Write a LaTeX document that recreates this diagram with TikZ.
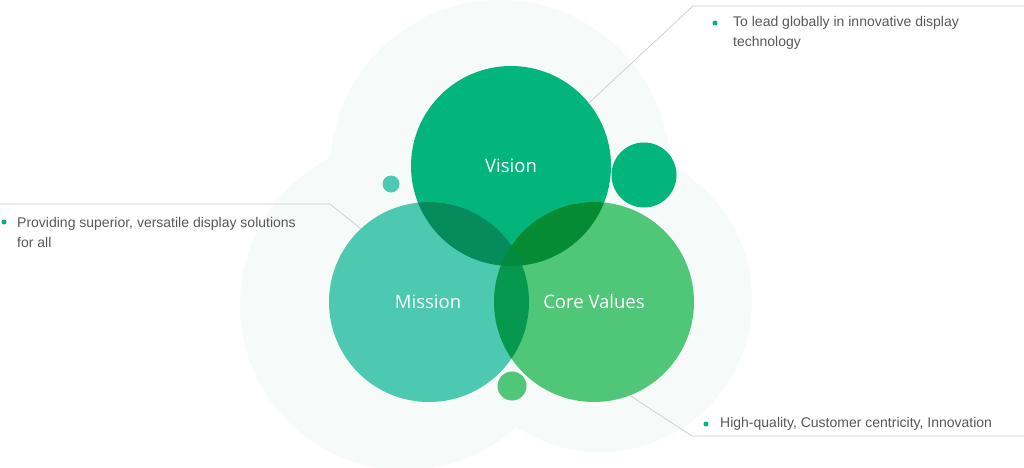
\documentclass[tikz,border=0pt]{standalone}
\usepackage{fontspec}
\setmainfont{Liberation Sans}
\newfontfamily\labfont{Open Sans}
\definecolor{cv}{RGB}{2,181,123}
\definecolor{cm}{RGB}{76,201,176}
\definecolor{cc}{RGB}{80,198,120}
\definecolor{cvm}{RGB}{6,139,92}
\definecolor{cvc}{RGB}{4,139,52}
\definecolor{cmc}{RGB}{7,152,80}
\definecolor{cvmc}{RGB}{4,137,64}
\definecolor{faint}{RGB}{246,250,249}
\definecolor{txt}{RGB}{88,88,88}
\definecolor{leader}{RGB}{205,205,205}
\begin{document}
\begin{tikzpicture}[x=1pt,y=-1pt,
  bigc/.style={circle,inner sep=0pt,minimum size=200pt},
  lab/.style={text=white,font=\labfont\fontsize{18.5}{22}\selectfont},
  desc/.style={text=txt,anchor=west,align=left,inner sep=0pt,font=\fontsize{14}{20}\selectfont},
  bul/.style={circle,fill=cv,inner sep=0pt,minimum size=5pt},
  lead/.style={draw=leader,line width=0.7pt}]
\useasboundingbox (0,0) rectangle (1024,467);
\fill[white] (0,0) rectangle (1024,467);
% faint background circles
\fill[faint] (500,170) circle (170);
\fill[faint] (405,305) circle (165);
\fill[faint] (600,300) circle (152);
% main circles
\node[bigc,fill=cv] (vision) at (511,166) {};
\node[bigc,fill=cm] (mission) at (429,302) {};
\node[bigc,fill=cc] (core) at (594,302) {};
% intersections
\begin{scope}
  \clip (511,166) circle (100);
  \fill[cvm] (429,302) circle (100);
\end{scope}
\begin{scope}
  \clip (511,166) circle (100);
  \fill[cvc] (594,302) circle (100);
\end{scope}
\begin{scope}
  \clip (429,302) circle (100);
  \fill[cmc] (594,302) circle (100);
\end{scope}
\begin{scope}
  \clip (511,166) circle (100);
  \clip (429,302) circle (100);
  \fill[cvmc] (594,302) circle (100);
\end{scope}
% small circles
\node[circle,inner sep=0pt,minimum size=65pt,fill=cv] (s1) at (644,175) {};
\node[circle,inner sep=0pt,minimum size=17pt,fill=cm] (s2) at (391,184) {};
\node[circle,inner sep=0pt,minimum size=29pt,fill=cc] (s3) at (512,386) {};
% labels
\node[lab] (lv) at (511,166) {Vision};
\node[lab] (lm) at (428,302) {Mission};
\node[lab] (lc) at (594,302) {Core Values};
% leader lines
\coordinate (a1) at (693,6);
\coordinate (a2) at (1024,6);
\coordinate (b1) at (330,204);
\coordinate (b2) at (0,204);
\coordinate (c1) at (692,436);
\coordinate (c2) at (1024,436);
\draw[lead] (vision.39) -- (a1) -- (a2);
\draw[lead] (mission.133) -- (b1) -- (b2);
\draw[lead] (core.-69) -- (c1) -- (c2);
% descriptions
\node[bul] (d1) at (715,23) {};
\node[desc] (t1) at (733,33) {To lead globally in innovative display\\technology};
\node[bul] (d2) at (4,222) {};
\node[desc] (t2) at (17,232) {Providing superior, versatile display solutions\\for all};
\node[bul] (d3) at (706,424) {};
\node[desc] (t3) at (720,424) {High-quality, Customer centricity, Innovation};
\end{tikzpicture}
\end{document}
